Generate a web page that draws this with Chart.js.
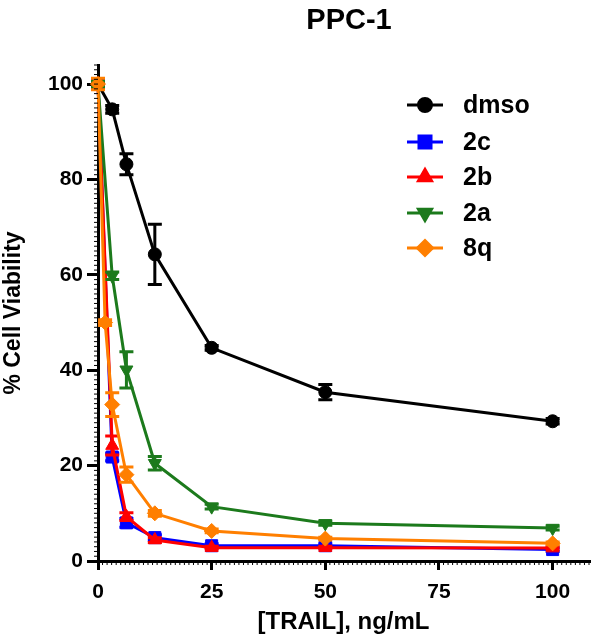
<!DOCTYPE html>
<html>
<head>
<meta charset="utf-8">
<title>PPC-1</title>
<script src="https://cdn.jsdelivr.net/npm/chart.js@4.4.1/dist/chart.umd.min.js"></script>
<style>
    body { margin: 0; background: #fff; }
    #wrap { width: 600px; height: 641px; }
</style>
</head>
<body>
<div id="wrap"><canvas id="viabilityChart" width="600" height="641"></canvas></div>
<script>
// TRAIL concentrations (ng/mL)
const doses = [0, 3.125, 6.25, 12.5, 25, 50, 100];
const doses8q = [0, 1.5625, 3.125, 6.25, 12.5, 25, 50, 100];

const seriesNames = ['dmso', '2c', '2b', '2a', '8q'];
const seriesColors = ['#000000', '#0000ff', '#ff0000', '#1c7a1c', '#ff7f00'];

// mean % viability and SD
const dmsoMean = [100, 94.7, 83.2, 64.3, 44.7, 35.4, 29.3];
const dmsoSd   = [0.6, 0.8, 2.2, 6.3, 0.5, 1.6, 0.6];
const c2cMean  = [100, 21.8, 8.0, 4.9, 3.2, 3.2, 2.4];
const c2cSd    = [0.8, 0.8, 0.9, 0.6, 0.4, 0.4, 0.4];
const c2bMean  = [100, 24.2, 9.3, 4.4, 2.8, 2.8, 2.7];
const c2bSd    = [0.6, 2.0, 0.8, 0.5, 0.3, 0.3, 0.3];
const c2aMean  = [100, 59.8, 40.1, 20.5, 11.4, 7.9, 6.9];
const c2aSd    = [0.6, 0.8, 3.8, 1.4, 0.5, 0.4, 0.4];
const c8qMean  = [100, 50.0, 32.8, 18.1, 10.0, 6.3, 4.7, 3.7];
const c8qSd    = [1.2, 0.6, 2.5, 1.6, 0.6, 0.4, 0.3, 0.3];

const xTicks = [0, 25, 50, 75, 100];
const yTicks = [0, 20, 40, 60, 80, 100];

function toPoints(xs, ys, sds) {
    return xs.map((x, i) => ({ x: x, y: ys[i], sd: sds[i] }));
}

function makeSet(i, xs, ys, sds, style, radius, rotation, order) {
    return {
        label: seriesNames[i],
        data: toPoints(xs, ys, sds),
        borderColor: seriesColors[i],
        backgroundColor: seriesColors[i],
        pointStyle: style,
        pointRadius: radius,
        pointRotation: rotation,
        pointBorderWidth: 1,
        borderWidth: 3,
        tension: 0,
        clip: false,
        order: order
    };
}

// error bars, drawn with each dataset so layering matches
const errorBars = {
    id: 'errorBars',
    afterDatasetDraw(chart, args) {
        const ctx = chart.ctx;
        const ds = chart.data.datasets[args.index];
        const xs = chart.scales.x;
        const ys = chart.scales.y;
        ctx.save();
        ctx.strokeStyle = ds.borderColor;
        ctx.lineWidth = 3;
        ds.data.forEach(p => {
            if (!p.sd) return;
            const px = xs.getPixelForValue(p.x);
            const top = ys.getPixelForValue(p.y + p.sd);
            const bot = ys.getPixelForValue(p.y - p.sd);
            ctx.beginPath();
            ctx.moveTo(px, top); ctx.lineTo(px, bot);
            ctx.moveTo(px - 7, top); ctx.lineTo(px + 7, top);
            ctx.moveTo(px - 7, bot); ctx.lineTo(px + 7, bot);
            ctx.stroke();
        });
        ctx.restore();
    }
};

// title, minor ticks and the in-plot legend
const decorations = {
    id: 'decorations',
    afterDraw(chart) {
        const ctx = chart.ctx;
        const xs = chart.scales.x;
        const ys = chart.scales.y;
        const area = chart.chartArea;
        ctx.save();

        ctx.fillStyle = '#000';
        ctx.font = 'bold 29px "Liberation Sans", Arial, sans-serif';
        ctx.textAlign = 'center';
        ctx.textBaseline = 'alphabetic';
        ctx.fillText('PPC-1', 349, 29);

        ctx.strokeStyle = '#000';
        ctx.lineWidth = 1;
        ctx.beginPath();
        for (let v = 0; v <= xs.max; v += 1) {
            const px = xs.getPixelForValue(v);
            ctx.moveTo(px, area.bottom); ctx.lineTo(px, area.bottom + 4);
        }
        for (let v = 0; v <= ys.max; v += 1) {
            const py = ys.getPixelForValue(v);
            ctx.moveTo(area.left, py); ctx.lineTo(area.left - 4, py);
        }
        ctx.stroke();

        // legend
        const rowY = [105, 142, 177, 213, 248];
        chart.data.datasets.forEach((ds, i) => {
            const y = rowY[i];
            ctx.strokeStyle = ds.borderColor;
            ctx.fillStyle = ds.backgroundColor;
            ctx.lineWidth = 3;
            ctx.beginPath();
            ctx.moveTo(407, y); ctx.lineTo(443, y);
            ctx.stroke();
            Chart.helpers.drawPoint(ctx, {
                pointStyle: ds.pointStyle,
                rotation: ds.pointRotation,
                radius: ds.pointRadius,
                borderWidth: 1
            }, 425, y);
            ctx.fillStyle = '#000';
            ctx.font = 'bold 25px "Liberation Sans", Arial, sans-serif';
            ctx.textAlign = 'left';
            ctx.textBaseline = 'middle';
            ctx.fillText(ds.label, 463, y + 1);
        });
        ctx.restore();
    }
};

Chart.defaults.font.family = '"Liberation Sans", Arial, sans-serif';
Chart.defaults.font.weight = 'bold';
Chart.defaults.color = '#000';

const chart = new Chart(document.getElementById('viabilityChart'), {
    type: 'line',
    data: {
        datasets: [
            makeSet(0, doses, dmsoMean, dmsoSd, 'circle', 6.5, 0, 4),
            makeSet(1, doses, c2cMean, c2cSd, 'rect', 8.5, 0, 3),
            makeSet(2, doses, c2bMean, c2bSd, 'triangle', 7.5, 0, 2),
            makeSet(3, doses, c2aMean, c2aSd, 'triangle', 7.5, 180, 1),
            makeSet(4, doses8q, c8qMean, c8qSd, 'rectRot', 7.5, 0, 0)
        ]
    },
    options: {
        responsive: false,
        animation: false,
        layout: { padding: { top: 0, right: 11, left: 0, bottom: 0 } },
        plugins: {
            legend: { display: false },
            tooltip: { enabled: false },
            title: { display: true, text: '', padding: { top: 0, bottom: 0 } }
        },
        scales: {
            x: {
                type: 'linear',
                min: 0,
                max: 108,
                afterBuildTicks: axis => { axis.ticks = xTicks.map(v => ({ value: v })); },
                afterFit: axis => { axis.height = 80; },
                border: { display: true, color: '#000', width: 3 },
                grid: { drawOnChartArea: false, drawTicks: true, tickLength: 9, color: '#000', lineWidth: 3 },
                ticks: { font: { size: 21, weight: 'bold' }, padding: 10, color: '#000' },
                title: { display: true, text: '[TRAIL], ng/mL', font: { size: 24, weight: 'bold' }, color: '#000', padding: { top: 0, bottom: 4 } }
            },
            y: {
                type: 'linear',
                min: 0,
                max: 104,
                afterBuildTicks: axis => { axis.ticks = yTicks.map(v => ({ value: v })); },
                afterFit: axis => { axis.width = 98; },
                border: { display: true, color: '#000', width: 3 },
                grid: { drawOnChartArea: false, drawTicks: true, tickLength: 11, color: '#000', lineWidth: 3 },
                ticks: { font: { size: 21, weight: 'bold' }, padding: 4, color: '#000' },
                title: { display: true, text: '% Cell Viability', font: { size: 23, weight: 'bold' }, color: '#000', padding: { top: 0, bottom: 0 } }
            }
        }
    },
    plugins: [errorBars, decorations]
});

// keep the plot area where the reference has it
chart.options.layout.padding.top = 65;
chart.options.plugins.title.display = false;
chart.update();
</script>
</body>
</html>
